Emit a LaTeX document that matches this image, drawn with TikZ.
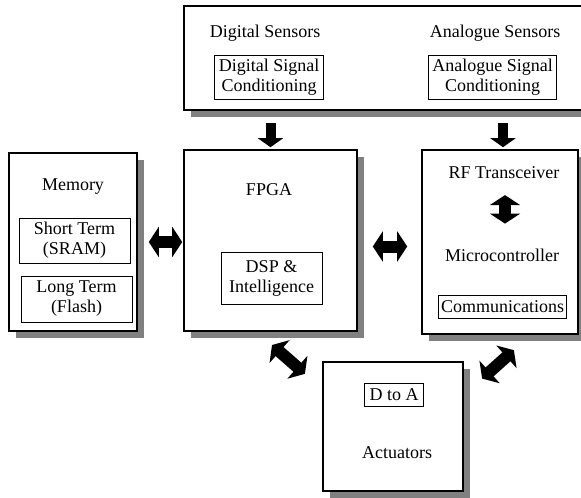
\documentclass[tikz,border=0pt]{standalone}
\usepackage{fontspec}
\setmainfont{Liberation Serif}
\usetikzlibrary{shapes,arrows.meta,positioning,calc,shadows}

\begin{document}
\begin{tikzpicture}[x=0.5pt,y=-0.5pt,
  font=\fontsize{9}{10}\selectfont,
  block/.style={rectangle,draw,line width=0.8pt,fill=white,
    drop shadow={shadow xshift=3.5pt,shadow yshift=-3.5pt,fill=black!50,opacity=1}},
  part/.style={rectangle,draw,line width=0.5pt,align=center,inner sep=2pt},
  fat/.style={line width=6pt,arrows={Triangle[width=15pt,length=5pt]-Triangle[width=15pt,length=5pt]}},
  fatdown/.style={line width=5pt,arrows={-Triangle[width=12.5pt,length=4.5pt]}}]
  \useasboundingbox (0,0) rectangle (581,497);

  \node[block,minimum width=208pt,minimum height=52pt] (sensors) at (392,58) {};
  \node (dsens) at (265,33) {Digital Sensors};
  \node (asens) at (495,33) {Analogue Sensors};
  \node[part] (dcond) at (269,77.5) {Digital Signal\\Conditioning};
  \node[part] (acond) at (492.5,77.5) {Analogue Signal\\Conditioning};

  \node[block,minimum width=64pt,minimum height=89pt] (memory) at (73,242) {};
  \node (memtxt) at (73,187) {Memory};
  \node[part,minimum width=55.5pt,minimum height=22.5pt] (sram) at (74.5,240.5) {Short Term\\(SRAM)};
  \node[part,minimum width=55.5pt,minimum height=23pt] (flash) at (76.5,299) {Long Term\\(Flash)};

  \node[block,minimum width=86.5pt,minimum height=90.5pt] (fpga) at (270.5,240.5) {};
  \node (fpgatxt) at (269,190) {FPGA};
  \node[part,minimum width=50.5pt,minimum height=26pt] (dsp) at (271.5,278) {DSP \&\\Intelligence};

  \node[block,minimum width=78pt,minimum height=92pt] (micro) at (500,242) {};
  \node (rf) at (504,173) {RF Transceiver};
  \node (mctxt) at (502,255) {Microcontroller};
  \node[part,inner xsep=1.2pt,minimum height=11.5pt] (comms) at (502.5,306.5) {Communications};

  \node[block,minimum width=70pt,minimum height=64.5pt] (act) at (393,426.5) {};
  \node[part,inner sep=2.5pt] (dtoa) at (394,395) {D to A};
  \node (acttxt) at (397,453) {Actuators};

  % sensor inputs
  \draw[fatdown,shorten <=6pt,shorten >=1pt] (fpga.north |- sensors.south) -- (fpga.north);
  \draw[fatdown,shorten <=6pt,shorten >=1pt] ($(micro.north |- sensors.south)+(1.5pt,0)$) -- ($(micro.north)+(1.5pt,0)$);

  % links between blocks
  \draw[fat,shorten <=5.5pt,shorten >=0.5pt] (memory.east) -- (memory.east -| fpga.west);
  \draw[fat,shorten <=7.5pt,shorten >=7pt] ($(fpga.east)+(0,-3pt)$) -- ($(fpga.east -| micro.west)+(0,-3pt)$);
  \draw[fat,shorten <=4.5pt,shorten >=9pt] ($(rf.south)+(0.5pt,0)$) -- ($(rf.south |- mctxt.north)+(0.5pt,0)$);
  \draw[fat,shorten <=10pt,shorten >=11.5pt] ($(fpga.south)+(-6.75pt,0)$) -- ($(act.west)+(0,18.75pt)$);
  \draw[fat,shorten <=12.3pt,shorten >=11.5pt] ($(act.east)+(0,15.75pt)$) -- ($(micro.south)+(15.5pt,0)$);
\end{tikzpicture}
\end{document}
